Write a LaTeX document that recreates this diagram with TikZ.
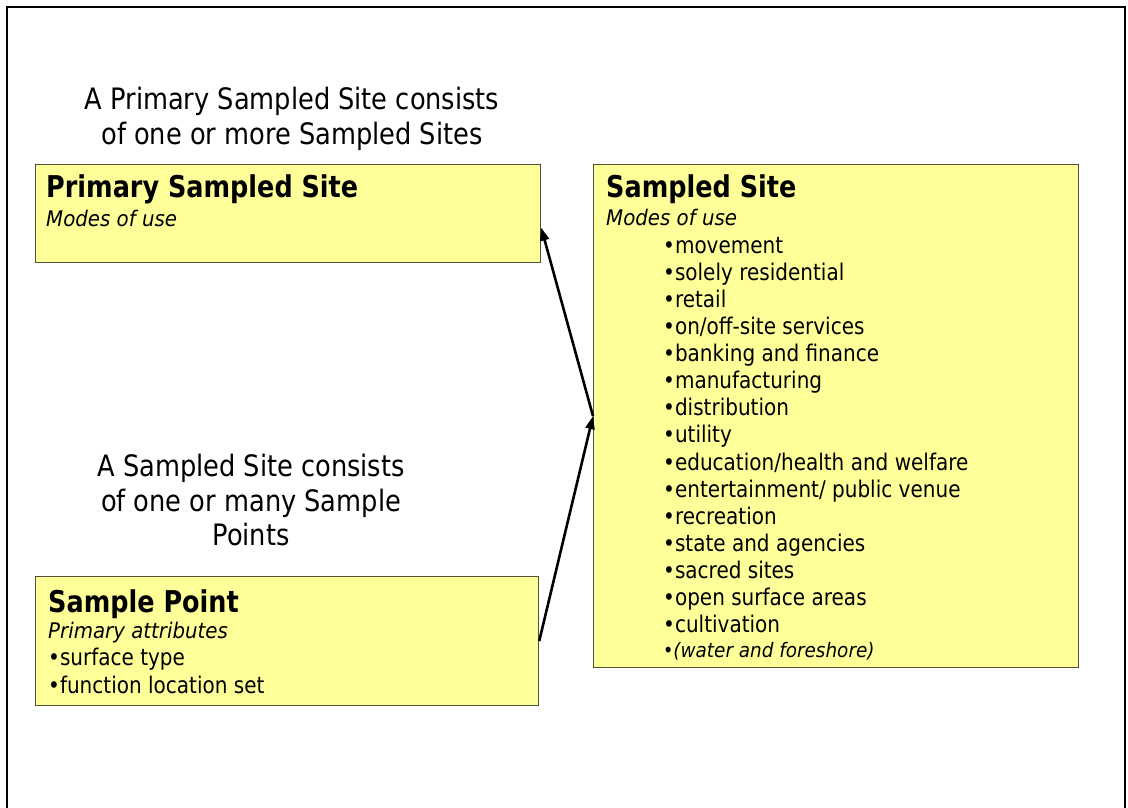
\documentclass[tikz,border=0pt]{standalone}
\usepackage{fontspec}
\setmainfont{DejaVu Sans}[FakeStretch=0.87]
\newfontfamily\headfont{DejaVu Sans}[FakeStretch=0.85]
\newfontfamily\notefont{DejaVu Sans}[FakeStretch=0.92]
\usetikzlibrary{arrows.meta}
\definecolor{boxfill}{RGB}{255,255,153}
\definecolor{boxline}{RGB}{80,80,60}
\tikzset{
  umlbox/.style={draw=boxline, line width=1.2pt, fill=boxfill, inner sep=0pt},
  title/.style={anchor=base west, inner sep=0pt, font=\headfont\fontsize{30}{32}\selectfont\bfseries},
  sub/.style={anchor=base west, inner sep=0pt, font=\notefont\fontsize{21.5}{24}\selectfont\itshape},
  item/.style={anchor=base west, inner sep=0pt, font=\fontsize{23}{25}\selectfont},
  caption/.style={align=center, inner sep=0pt, font=\fontsize{29.5}{34.5}\selectfont},
  link/.style={line width=2.6pt, -{Triangle[length=13pt,width=9pt]}}
}
\begin{document}
\begin{tikzpicture}[x=1pt,y=-1pt]
  \useasboundingbox (0,0) rectangle (1128,808);
  \fill[white] (0,0) rectangle (1128,808);
  % slide frame
  \draw[line width=1.5pt] (7,810) -- (7,7) -- (1125,7) -- (1125,810);

  % boxes
  \node[umlbox, minimum width=505pt, minimum height=98pt, anchor=north west] (ps) at (35,164) {};
  \node[umlbox, minimum width=485pt, minimum height=503pt, anchor=north west] (ss) at (593,164) {};
  \node[umlbox, minimum width=503pt, minimum height=129pt, anchor=north west] (sp) at (35,576) {};

  % Primary Sampled Site
  \node[title] (pst) at (46,197) {Primary Sampled Site};
  \node[sub] (psm) at (46,226) {Modes of use};

  % Sampled Site
  \node[title] (sst) at (606,197) {Sampled Site};
  \node[sub] (ssm) at (606,225) {Modes of use};
  \foreach \t [count=\i] in {movement, solely residential, retail, on/off-site services,
      banking and finance, manufacturing, distribution, utility,
      education/health and welfare, entertainment/ public venue, recreation,
      state and agencies, sacred sites, open surface areas, cultivation}
    \node[item] (ss\i) at (663,{253+27.14*(\i-1)}) {\textbullet\t};
  \node[anchor=base west, inner sep=0pt, font=\fontsize{20}{22}\selectfont] (ss16) at (663,657)
    {\textbullet{\notefont\itshape(water and foreshore)}};

  % Sample Point
  \node[title] (spt) at (48,612) {Sample Point};
  \node[sub] (spm) at (48,638) {Primary attributes};
  \node[item] (sp1) at (48,665) {\textbullet surface type};
  \node[item] (sp2) at (48,693) {\textbullet function location set};

  % captions
  \node[caption, anchor=north] (c1) at (292,87) {A Primary Sampled Site consists\\of one or more Sampled Sites};
  \node[caption, anchor=north] (c2) at (251,454) {A Sampled Site consists\\of one or many Sample\\Points};

  % connectors
  \draw[link] (sp.east) -- (ss.west);
  \draw[link] (ss.west) -- ([yshift=-14pt]ps.east);
\end{tikzpicture}
\end{document}
